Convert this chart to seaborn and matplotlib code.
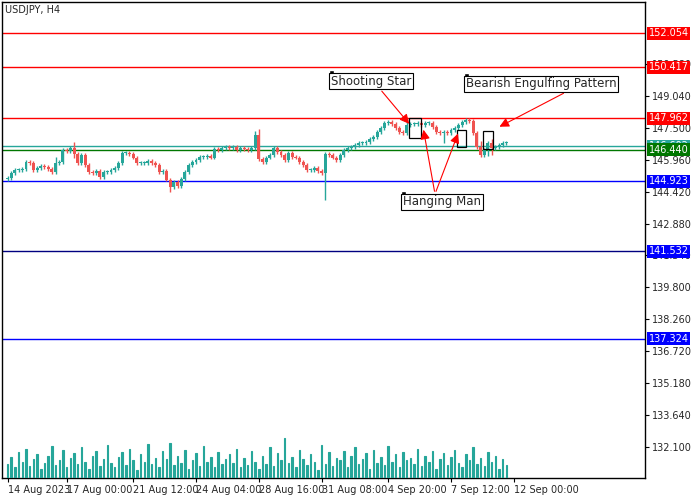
import matplotlib
matplotlib.use("Agg")
import matplotlib.pyplot as plt
import seaborn as sns
import numpy as np
import pandas as pd

sns.set_theme(style="white")
plt.rcParams['font.family'] = ['DejaVu Sans']

# closes (price) per H4 candle
closes = [145.08,145.32,145.47,145.47,145.51,145.85,145.80,145.47,145.56,145.66,145.61,145.51,145.37,145.80,145.85,
          146.43,146.38,146.53,146.24,145.80,146.19,145.71,145.37,145.32,145.42,145.13,145.37,145.37,145.47,145.56,
          145.80,146.29,146.29,146.24,146.05,145.80,145.80,145.80,145.90,145.80,145.71,145.37,145.42,144.99,144.65,
          144.89,144.69,145.03,145.37,145.71,145.85,145.95,146.09,146.09,146.14,146.05,146.48,146.43,146.53,146.58,
          146.53,146.58,146.43,146.53,146.48,146.43,146.53,147.16,146.00,145.85,146.05,146.19,146.53,146.33,146.19,
          145.95,146.29,146.09,146.05,145.85,145.71,145.47,145.47,145.56,145.42,145.32,146.24,146.19,146.05,145.95,
          146.19,146.43,146.53,146.58,146.67,146.77,146.77,146.82,146.96,147.06,147.30,147.49,147.73,147.78,147.69,
          147.49,147.30,147.25,147.64,147.69,147.69,147.73,147.64,147.73,147.73,147.54,147.30,147.25,147.30,147.25,
          147.40,147.49,147.64,147.78,147.88,147.83,147.25,146.58,146.19,146.43,146.77,146.53,146.58,146.67,146.77,146.77]
first_open = 145.03
# extra wick lengths for specific candles (index: (upper, lower))
long_wicks = {13: (0.3, 0.1), 18: (0.3, 0.2), 44: (0.1, 0.25), 67: (0.2, 0.1), 68: (0.3, 0.1),
              86: (0.1, 1.3), 108: (0.3, 0.1), 118: (0.1, 0.5), 128: (0.3, 0.1), 130: (0.1, 0.3), 131: (0.2, 0.35)}
volumes = [12,18,9,22,14,25,10,16,20,8,13,19,27,11,15,24,9,17,21,12,26,14,8,19,23,10,16,28,13,9,
           18,22,11,25,15,7,20,14,29,12,17,9,23,16,30,11,19,13,24,8,15,21,10,27,14,18,9,22,12,16,
           20,13,25,9,17,11,23,14,8,19,12,26,10,21,15,34,13,18,9,24,16,11,20,14,7,28,12,22,10,17,
           15,23,9,19,26,12,16,21,8,24,13,18,11,27,14,20,9,22,15,17,12,25,10,19,14,23,8,16,21,11,
           18,24,13,9,20,15,26,12,17,10,22,14,19,8,16,11,13,9]
price_lines = [152.054, 150.417, 147.962, 146.602, 146.440, 144.923, 141.532, 137.324]
line_colors = ['#ff0000', '#ff0000', '#ff0000', '#26a69a', '#007700', '#0000ff', '#000080', '#0000ff']
label_colors = ['#ff0000', '#ff0000', '#ff0000', '#26a69a', '#007700', '#0000ff', '#0000ff', '#0000ff']
yticks = [150.580, 149.040, 147.500, 145.960, 144.420, 142.880, 141.340, 139.800, 138.260, 136.720, 135.180, 133.640, 132.100]
xtick_labels = ["14 Aug 2023", "17 Aug 00:00", "21 Aug 12:00", "24 Aug 04:00", "28 Aug 16:00",
                "31 Aug 08:00", "4 Sep 20:00", "7 Sep 12:00", "12 Sep 00:00"]
xtick_idx = [0, 16, 34, 51, 68, 85, 103, 120, 137]

n = len(closes)
opens = [first_open] + closes[:-1]
highs, lows = [], []
for i in range(n):
    u, l = long_wicks.get(i, (0.08, 0.08))
    highs.append(max(opens[i], closes[i]) + u)
    lows.append(min(opens[i], closes[i]) - l)
df = pd.DataFrame({"i": np.arange(n), "o": opens, "c": closes, "h": highs, "l": lows,
                   "v": volumes[:n]})
up = "#26a69a"; dn = "#ef5350"
df["col"] = np.where(df.c >= df.o, up, dn)

W, H = 700, 500
fig = plt.figure(figsize=(7, 5), dpi=100)
ax = fig.add_axes([2/W, 22/H, 643/W, 476/H])
ax.set_xlim(-1.5, 172.5)
ax.set_ylim(130.60, 153.57)

ax.vlines(df.i, df.l, df.h, colors=df.col, lw=1, zorder=3)
ax.bar(df.i, np.maximum((df.c - df.o).abs(), 0.05), bottom=np.minimum(df.o, df.c),
       color=df.col, width=0.8, lw=0, zorder=3)

for p, lc in zip(price_lines, line_colors):
    ax.axhline(p, color=lc, lw=1, zorder=2)

# volume
axv = ax.twinx()
axv.set_ylim(0, 34 * 476 / 40)
axv.bar(df.i, df.v, color=up, width=0.4, lw=0.8, edgecolor=up)
axv.set_yticks([])
for s in axv.spines.values():
    s.set_visible(False)

ax.yaxis.tick_right()
ax.set_yticks(yticks)
ax.set_yticklabels([f"{t:.3f}" for t in yticks], fontsize=7)
ax.set_xticks(xtick_idx)
ax.set_xticklabels(xtick_labels, fontsize=7, ha='left')
ax.tick_params(axis='both', length=3, width=0.8, color='black', pad=2, direction='out', bottom=True, right=True)
for s in ax.spines.values():
    s.set_color('black'); s.set_linewidth(1)

for p, lc in zip(price_lines, label_colors):
    ax.text(1.006, p, f"{p:.3f}", transform=ax.get_yaxis_transform(), fontsize=7, color='white',
            va='center', ha='left', bbox=dict(boxstyle='square,pad=0.15', fc=lc, ec='none'), clip_on=False, zorder=10)

fig.text(5/W, 1 - 10/H, "USDJPY, H4", fontsize=7, va='center')

# pattern boxes (candle index, price)
for x0, x1, y0, y1 in [(108.6, 111.8, 147.01, 147.98), (121.5, 124, 146.58, 147.40), (128.6, 131.4, 146.48, 147.35)]:
    ax.add_patch(plt.Rectangle((x0, y0), x1 - x0, y1 - y0, fill=False, ec='black', lw=0.9, zorder=5))

def fx(px): return px / W
def fy(py): return 1 - py / H
txtkw = dict(fontsize=8.5, va='center', ha='left', bbox=dict(boxstyle='square,pad=0.15', fc='white', ec='black', lw=0.8))
for label, px, py in [("Shooting Star", 331, 81), ("Bearish Engulfing Pattern", 466, 84), ("Hanging Man", 403, 202)]:
    fig.text(fx(px), fy(py), label, **txtkw)
    fig.patches.append(plt.Rectangle((fx(px - 2), fy(py - 6)), 5/W, 5/H, transform=fig.transFigure, fc='black'))
arrowkw = dict(arrowstyle='-|>', color='red', lw=0.8, mutation_scale=14)
for (x0, y0), (x1, y1) in [((380, 89), (411, 126)), ((566, 92), (497, 128)),
                           ((435, 194), (423, 127)), ((435, 194), (459, 131))]:
    fig.add_artist(matplotlib.patches.FancyArrowPatch((fx(x0), fy(y0)), (fx(x1), fy(y1)),
                   transform=fig.transFigure, **arrowkw))

fig.savefig("out.png", dpi=100)
